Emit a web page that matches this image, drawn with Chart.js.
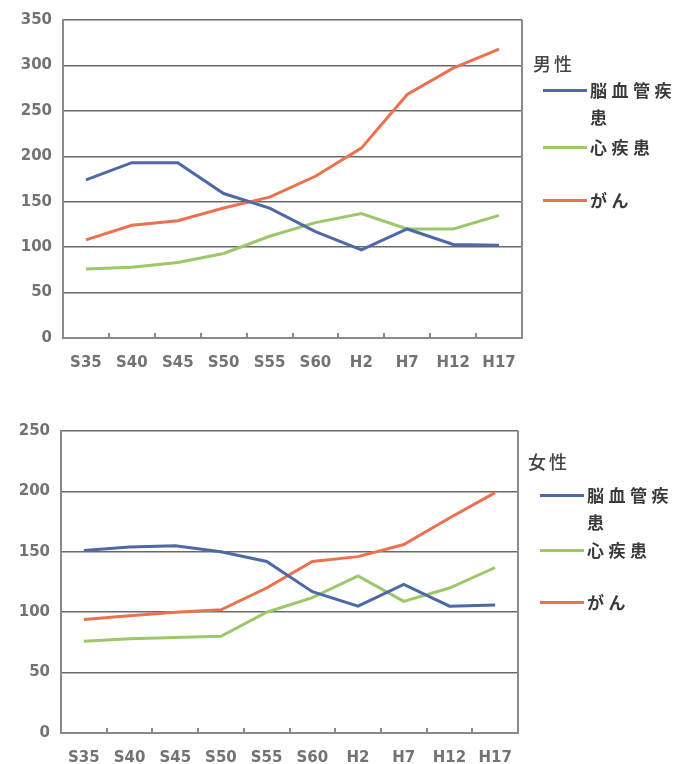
<!DOCTYPE html>
<html>
<head>
  <meta charset="utf-8" />
  <title>死因別死亡率の推移</title>
  <script src="https://cdn.jsdelivr.net/npm/chart.js"></script>
  <style>
    body { margin: 0; background: #fff; width: 680px; height: 764px; position: relative; overflow: hidden; }
    canvas { position: absolute; left: 0; }
    #male { top: 0; }
    #female { top: 395px; }
    .legend { position: absolute; font-family: "Noto Sans CJK JP", sans-serif; color: #3a3a3a; font-weight: bold; }
    .legend .title { position: absolute; font-size: 18px; letter-spacing: 3px; white-space: nowrap; font-weight: 500; color: #444; }
    .legend .item { position: absolute; left: 0; }
    .legend .swatch { position: absolute; width: 44px; height: 3px; }
    .legend .label { position: absolute; left: 47px; width: 92px; font-size: 17px; letter-spacing: 4.5px; line-height: 27px; }
  </style>
</head>
<body>
  <canvas id="male" width="680" height="395"></canvas>
  <canvas id="female" width="680" height="369"></canvas>
  <div class="legend" id="legendMale" style="left:533px; top:0;"></div>
  <div class="legend" id="legendFemale" style="left:528px; top:410px;"></div>

  <script>
    var years = ['S35', 'S40', 'S45', 'S50', 'S55', 'S60', 'H2', 'H7', 'H12', 'H17'];
    var seriesNames = ['脳血管疾患', '心疾患', 'がん'];
    var seriesColors = ['#4d6aa6', '#9cc86a', '#ec7150'];

    // 男性
    var maleStroke = [174, 193, 193, 159, 143, 117, 97, 120, 103, 102];
    var maleHeart = [76, 78, 83, 93, 112, 127, 137, 120, 120, 135];
    var maleCancer = [108, 124, 129, 143, 155, 178, 209, 268, 297, 318];
    var maleTicks = [0, 50, 100, 150, 200, 250, 300, 350];

    // 女性
    var femaleStroke = [151, 154, 155, 150, 142, 117, 105, 123, 105, 106];
    var femaleHeart = [76, 78, 79, 80, 100, 112, 130, 109, 120, 137];
    var femaleCancer = [94, 97, 100, 102, 120, 142, 146, 156, 178, 199];
    var femaleTicks = [0, 50, 100, 150, 200, 250];

    var tickFont = { family: 'DejaVu Sans', size: 15, weight: 'bold' };

    // right side of the frame + small tick marks between categories
    var frame = {
      id: 'frame',
      afterDraw: function (chart) {
        var a = chart.chartArea, ctx = chart.ctx;
        var step = (a.right - a.left) / years.length;
        ctx.save();
        ctx.strokeStyle = '#8a8a8a';
        ctx.lineWidth = 2;
        ctx.beginPath();
        ctx.moveTo(a.right, a.top);
        ctx.lineTo(a.right, a.bottom);
        for (var i = 1; i < years.length; i++) {
          var x = Math.round(a.left + step * i);
          ctx.moveTo(x, a.bottom);
          ctx.lineTo(x, a.bottom - 5);
        }
        ctx.stroke();
        ctx.restore();
      }
    };

    function makeChart(id, values, ticks, box) {
      var datasets = values.map(function (v, i) {
        return {
          label: seriesNames[i],
          data: v,
          borderColor: seriesColors[i],
          borderWidth: 3,
          pointRadius: 0,
          tension: 0,
          fill: false
        };
      });
      return new Chart(document.getElementById(id).getContext('2d'), {
        type: 'line',
        data: { labels: years, datasets: datasets },
        options: {
          responsive: false,
          animation: false,
          devicePixelRatio: 1,
          layout: { padding: { left: 0, right: box.right, top: box.top, bottom: 0 } },
          plugins: { legend: { display: false }, tooltip: { enabled: false } },
          scales: {
            x: {
              offset: true,
              grid: { display: false, drawTicks: false },
              border: { color: '#8a8a8a', width: 2 },
              ticks: { color: '#737373', font: tickFont, padding: 16, maxRotation: 0, autoSkip: false },
              afterFit: function (s) { s.height = box.xHeight; }
            },
            y: {
              min: 0,
              max: ticks[ticks.length - 1],
              afterBuildTicks: function (s) { s.ticks = ticks.map(function (t) { return { value: t }; }); },
              grid: { color: '#6a6a6a', lineWidth: 1.5, drawTicks: false },
              border: { color: '#8a8a8a', width: 2 },
              ticks: { color: '#737373', font: tickFont, padding: 11 },
              afterFit: function (s) { s.width = box.left; }
            }
          }
        },
        plugins: [frame]
      });
    }

    makeChart('male', [maleStroke, maleHeart, maleCancer], maleTicks,
      { left: 63, right: 158, top: 19, xHeight: 57 });
    makeChart('female', [femaleStroke, femaleHeart, femaleCancer], femaleTicks,
      { left: 61, right: 162, top: 36, xHeight: 31 });

    function buildLegend(id, title, titleTop, rows) {
      var el = document.getElementById(id);
      var t = document.createElement('div');
      t.className = 'title';
      t.style.top = titleTop + 'px';
      t.textContent = title;
      el.appendChild(t);
      rows.forEach(function (r, i) {
        var item = document.createElement('div');
        item.className = 'item';
        item.style.top = r.top + 'px';
        item.style.left = r.left + 'px';
        var sw = document.createElement('div');
        sw.className = 'swatch';
        sw.style.background = seriesColors[i];
        sw.style.top = '-1px';
        var lb = document.createElement('div');
        lb.className = 'label';
        lb.style.top = '-14px';
        lb.textContent = seriesNames[i];
        item.appendChild(sw);
        item.appendChild(lb);
        el.appendChild(item);
      });
    }

    buildLegend('legendMale', '男性', 50, [
      { top: 90, left: 10 }, { top: 147, left: 10 }, { top: 200, left: 10 }
    ]);
    buildLegend('legendFemale', '女性', 38, [
      { top: 85, left: 12 }, { top: 140, left: 12 }, { top: 192, left: 12 }
    ]);
  </script>
</body>
</html>
